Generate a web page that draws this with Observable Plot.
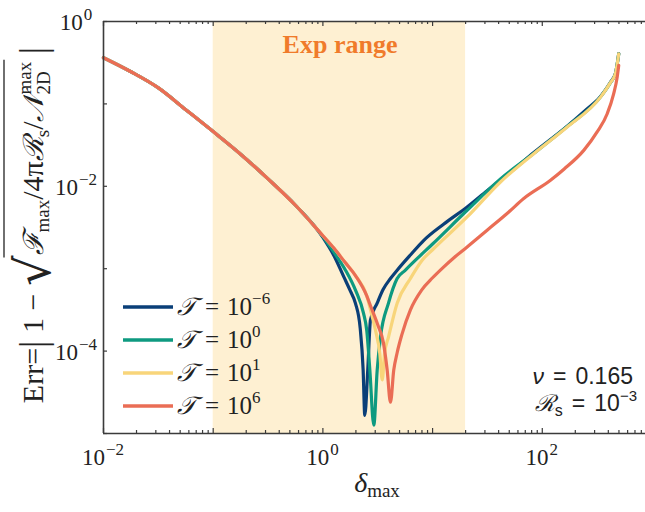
<!DOCTYPE html>
<html><head><meta charset="utf-8">
<script src="https://cdn.jsdelivr.net/npm/d3@7"></script>
<script src="https://cdn.jsdelivr.net/npm/@observablehq/plot@0.6"></script>
<style>html,body{margin:0;padding:0;background:#fff;overflow:hidden}</style>
</head><body><div id="chart"></div>
<script>
// ---- data (values are log10) ----
const seriesNames = ["T=1e-6", "T=1e0", "T=1e1", "T=1e6"];
const seriesExponents = ["−6", "0", "1", "6"];
const seriesColors = ["#0a3f78", "#0e9a80", "#f8d57a", "#ea6d55"];

const sharedLogX   = [-2, -1.75, -1.5, -1.25, -1, -0.75, -0.5, -0.25];
const sharedLogErr = [-0.44, -0.61, -0.806, -1.07, -1.336, -1.61, -1.91, -2.23];

const blueLogX   = [0,0.1,0.191,0.25,0.297,0.34,0.367,0.382,0.409,0.434,0.495,0.55,0.616,0.677,0.8,0.92,1.1,1.315,1.5,1.695,1.923,2.227,2.4,2.531,2.62,2.667,2.697];
const blueLogErr = [-2.62,-2.84,-3.10,-3.27,-3.42,-3.72,-4.23,-4.78,-4.23,-3.62,-3.418,-3.25,-3.119,-3.018,-2.83,-2.655,-2.46,-2.251,-2.05,-1.846,-1.59,-1.27,-1.07,-0.91,-0.74,-0.63,-0.39];

const greenLogX   = [0,0.1,0.206,0.3,0.37,0.40,0.428,0.464,0.495,0.525,0.598,0.677,0.75,0.844,1.0,1.315,1.619,1.923,2.227,2.531,2.62,2.667,2.697];
const greenLogErr = [-2.61,-2.80,-3.018,-3.27,-3.54,-3.75,-4.23,-4.90,-4.23,-3.83,-3.418,-3.119,-3.02,-2.897,-2.70,-2.291,-1.91,-1.60,-1.275,-0.915,-0.745,-0.632,-0.392];

const yellowLogX   = [0,0.1,0.2,0.3,0.4,0.434,0.48,0.519,0.541,0.562,0.598,0.677,0.798,0.905,1.0,1.315,1.619,1.923,2.227,2.531,2.62,2.667,2.697];
const yellowLogErr = [-2.60,-2.75,-2.92,-3.09,-3.33,-3.50,-3.75,-4.03,-4.35,-4.03,-3.83,-3.418,-3.119,-2.897,-2.77,-2.372,-1.948,-1.604,-1.281,-0.918,-0.745,-0.634,-0.392];

const redLogX   = [0,0.1,0.2,0.3,0.4,0.434,0.5,0.552,0.586,0.616,0.646,0.677,0.72,0.798,0.9,1.0,1.1,1.2,1.315,1.5,1.695,1.831,2.075,2.2,2.378,2.5,2.592,2.65,2.683,2.697];
const redLogErr = [-2.60,-2.75,-2.92,-3.09,-3.33,-3.45,-3.68,-3.90,-4.23,-4.62,-4.23,-4.02,-3.80,-3.50,-3.26,-3.11,-2.98,-2.86,-2.736,-2.53,-2.312,-2.149,-1.927,-1.79,-1.564,-1.34,-1.119,-0.88,-0.675,-0.533];

const expRange = [0.1, 20];
const xDomain = [1e-2, 873];
const yDomain = [1e-5, 1];
const xLabelTicks = [1e-2, 1, 1e2];
const yLabelTicks = [1, 1e-2, 1e-4];

// ---- build table ----
const seriesLogs = [[blueLogX, blueLogErr], [greenLogX, greenLogErr], [yellowLogX, yellowLogErr], [redLogX, redLogErr]];
const data = [];
seriesLogs.forEach(([lx, ly], i) => {
  const X = sharedLogX.concat(lx), Y = sharedLogErr.concat(ly);
  X.forEach((v, j) => data.push({series: seriesNames[i], x: 10 ** v, y: 10 ** Y[j]}));
});

const W = 645, H = 512, mL = 103, mR = 0, mT = 21, mB = 79;
const frameH = H - mT - mB, frameW = W - mL - mR;
const axisColor = "#3b3b3b";

const expOf = d => { const e = Math.round(Math.log10(d)); return (e < 0 ? "−" : "") + Math.abs(e); };

const xMajor = [], xMinor = [];
for (let e = -2; e <= 2; e++) for (let k = 1; k <= 9; k++) {
  const v = k * 10 ** e; if (v > xDomain[1]) continue;
  (k === 1 ? xMajor : xMinor).push(v);
}
const yTicks = [1, 1e-1, 1e-2, 1e-3, 1e-4, 1e-5];

const chart = Plot.plot({
  width: W, height: H,
  marginLeft: mL, marginRight: mR, marginTop: mT, marginBottom: mB,
  style: {fontFamily: "Liberation Serif", fontSize: "22px", color: "#222", background: "transparent"},
  x: {type: "log", domain: xDomain, axis: null},
  y: {type: "log", domain: yDomain, axis: null},
  color: {domain: seriesNames, range: seriesColors},
  marks: [
    Plot.rect([expRange], {x1: d => d[0], x2: d => d[1], y1: () => yDomain[0], y2: () => yDomain[1], fill: "#fef0d2"}),
    Plot.line(data, {x: "x", y: "y", z: "series", stroke: "series", strokeWidth: 3.2, curve: "monotone-x"}),
    Plot.ruleX([xDomain[0]], {stroke: axisColor, strokeWidth: 1.6}),
    Plot.ruleY([yDomain[0], yDomain[1]], {stroke: axisColor, strokeWidth: 1.6}),
    Plot.tickX(xMajor, {x: d => d, insetTop: frameH - 5, stroke: axisColor, strokeWidth: 1.2}),
    Plot.tickX(xMinor, {x: d => d, insetTop: frameH - 3, stroke: axisColor, strokeWidth: 1.2}),
    Plot.tickX(xMajor, {x: d => d, insetBottom: frameH - 5, stroke: axisColor, strokeWidth: 1.2}),
    Plot.tickX(xMinor, {x: d => d, insetBottom: frameH - 3, stroke: axisColor, strokeWidth: 1.2}),
    Plot.tickY(yTicks, {y: d => d, insetRight: frameW - 4, stroke: axisColor, strokeWidth: 1.2})
  ]
});
document.getElementById("chart").appendChild(chart);

// ---- rich text helper ----
const svg = d3.select(chart);
function rich(parent, pieces, base) {
  const g = parent.append("g").attr("text-anchor", "start");
  let x = 0, kept = 0; const marks = {};
  for (const p of pieces) {
    if (p.mark) { marks[p.mark] = x; continue; }
    if (p.gap) { x += p.gap; continue; }
    const t = g.append("text").attr("x", x).attr("y", p.dy || 0)
      .attr("text-anchor", "start")
      .attr("font-size", p.size || base.size).attr("font-family", p.family || base.family)
      .attr("font-style", p.italic ? "italic" : null).attr("font-weight", p.bold ? "bold" : null)
      .attr("fill", base.fill || "#222").style("white-space", "pre").text(p.text);
    const w = t.node().getComputedTextLength();
    if (p.keep) { kept = w; continue; }
    x += Math.max(w, kept); kept = 0;
  }
  return {g, width: x, marks};
}

// tick labels, placed with the plot's own scales
const sx = chart.scale("x"), sy = chart.scale("y");
const tickBase = {size: 23, family: "Liberation Serif"};
xLabelTicks.forEach(v => {
  const r = rich(svg.append("g"), [{text: "10"}, {gap: 1}, {text: expOf(v), size: 17, dy: -10}], tickBase);
  r.g.attr("transform", `translate(${sx.apply(v) - r.width / 2},465)`);
});
yLabelTicks.forEach(v => {
  const r = rich(svg.append("g"), [{text: "10"}, {gap: 1}, {text: expOf(v), size: 17, dy: -10}], tickBase);
  r.g.attr("transform", `translate(${76 - r.width / 2},${sy.apply(v) + 9})`);
});

// y label
{
  const base = {size: 30, family: "Liberation Serif"};
  const r = rich(svg.append("g"), [
    {text: "Err="}, {text: "|", size: 37, dy: 3}, {text: " 1 − "},
    {text: "√", size: 48, dy: 7, family: "DejaVu Serif"}, {mark: "r0"},
    {text: "ℱ", family: "DejaVu Serif", italic: true, size: 28}, {text: "max", size: 19, dy: 6},
    {text: "/4π"}, {text: "ℛ", family: "DejaVu Serif", italic: true, size: 28}, {text: "s", size: 19, dy: 6},
    {text: "/"}, {text: "𝒩", family: "DejaVu Serif", italic: true, size: 28},
    {text: "max", size: 19, dy: -12, keep: true}, {text: "2D", size: 19, dy: 7},
    {mark: "r1"}, {text: " "}, {text: "|", size: 37, dy: 3}
  ], base);
  r.g.append("line").attr("x1", r.marks.r0 - 2).attr("x2", r.marks.r1 + 2)
    .attr("y1", -39).attr("y2", -39).attr("stroke", "#222").attr("stroke-width", 1.3);
  r.g.attr("transform", `translate(43,${225 + r.width / 2}) rotate(-90)`);
}

// x label
{
  const r = rich(svg.append("g"), [
    {text: "δ", size: 28, italic: true}, {text: "max", size: 19, dy: 5}
  ], {size: 28, family: "Liberation Serif"});
  r.g.attr("transform", `translate(${377 - r.width / 2},492)`);
}

// legend
seriesNames.forEach((s, i) => {
  const yy = 307 + i * 33;
  svg.append("line").attr("x1", 123).attr("x2", 173).attr("y1", yy).attr("y2", yy)
    .attr("stroke", seriesColors[i]).attr("stroke-width", 3.4);
  const r = rich(svg.append("g"), [
    {text: "𝒯", family: "DejaVu Serif", italic: true}, {gap: 9}, {text: "="}, {gap: 8}, {text: "10"},
    {text: seriesExponents[i], size: 17, dy: -11}
  ], {size: 25, family: "Liberation Serif"});
  r.g.attr("transform", `translate(177,${yy + 8})`);
});

// Exp range
{
  const r = rich(svg.append("g"), [{text: "Exp range", bold: true}],
    {size: 26, family: "Liberation Serif", fill: "#f07b2b"});
  r.g.attr("transform", `translate(${340 - r.width / 2},53)`);
}

// parameter annotation
{
  const r1 = rich(svg.append("g"), [{text: "ν", italic: true}, {gap: 9}, {text: "="}, {gap: 9}, {text: "0.165"}], {size: 23, family: "Liberation Sans"});
  r1.g.attr("transform", `translate(${633 - r1.width},384)`);
  const r2 = rich(svg.append("g"), [
    {text: "ℛ", family: "DejaVu Serif", italic: true, size: 23}, {text: "s", size: 16, dy: 5}, {gap: 9}, {text: "="}, {gap: 9}, {text: "10"}, {text: "−3", size: 15, dy: -10}
  ], {size: 23, family: "Liberation Sans"});
  r2.g.attr("transform", `translate(${637 - r2.width},411)`);
}
</script>
</body></html>
